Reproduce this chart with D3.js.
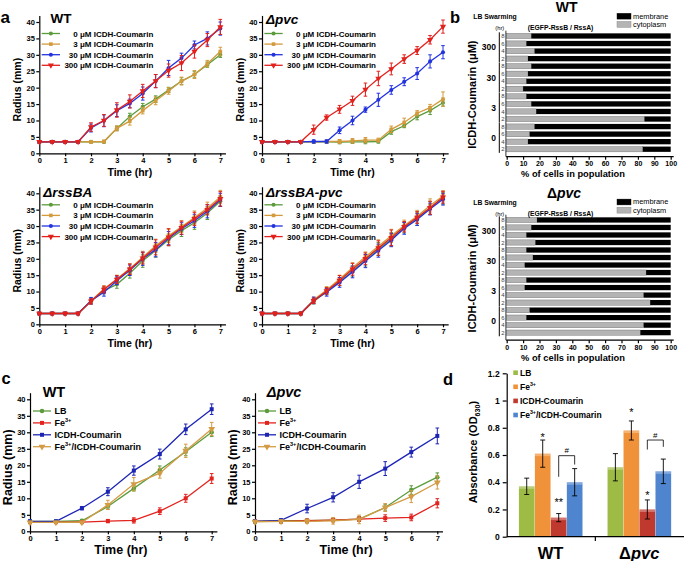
<!DOCTYPE html>
<html><head><meta charset="utf-8">
<script src="https://cdn.jsdelivr.net/npm/d3@7"></script>
<style>body{margin:0;background:#fff}svg{display:block}</style>
</head><body>
<svg id="fig" width="685" height="561"></svg>
<script>
// ---------------- DATA ----------------
const timesA = [0,0.5,1,1.5,2,2.5,3,3.5,4,4.5,5,5.5,6,6.5,7];
const timesC = [0,1,2,3,4,5,6,7];
const concLabels = ["0 \u03BCM ICDH-Coumarin","3 \u03BCM ICDH-Coumarin","30 \u03BCM ICDH-Coumarin","300 \u03BCM ICDH-Coumarin"];
const treatLabels = ["LB","Fe^{3+}","ICDH-Coumarin","Fe^{3+}/ICDH-Coumarin"];
const xTicksA = [0,1,2,3,4,5,6,7];
const yTicksA = [0,5,10,15,20,25,30,35,40];

// panel a - WT
const aWT_c0   = [3.5,3.5,3.5,3.5,3.5,3.5,7.6,11.2,14.2,16.5,19.3,22,24,27,30];
const aWT_e0   = [0.4,0.4,0.4,0.4,0.4,0.4,0.6,1,1,1,0.8,1,1,0.8,0.8];
const aWT_c3   = [3.5,3.5,3.5,3.5,3.5,3.6,7.6,9.8,13,16,19,22,24,27.3,31];
const aWT_e3   = [0.4,0.4,0.4,0.4,0.4,0.4,0.8,1.2,1,1.2,1,1.2,1.2,1,1.3];
const aWT_c30  = [3.5,3.5,3.5,3.5,7.7,9.9,13,15.2,18.2,22,26,29,33,35,38];
const aWT_e30  = [0.4,0.4,0.4,0.4,1.2,1.8,1.8,1.3,2,2,2.3,1.5,1.2,2,2];
const aWT_c300 = [3.5,3.5,3.5,3.5,8,10,13.2,15.8,19,22,25.2,27.5,31,34.5,38.5];
const aWT_e300 = [0.4,0.4,0.4,0.4,1.3,1.8,2.2,2,2,2,2,2.3,2,2,2.3];
// panel a - Δpvc
const aPV_c0   = [3.5,3.5,3.5,3.5,3.5,3.5,3.4,3.5,3.5,3.6,6.6,8.4,11.2,13,15.4];
const aPV_e0   = [0.4,0.4,0.4,0.4,0.4,0.4,0.5,0.5,0.6,0.5,0.8,0.6,1,1.2,1];
const aPV_c3   = [3.5,3.5,3.5,3.5,3.5,3.6,3.6,3.8,4,4,7.3,9.4,12.2,13.9,16.5];
const aPV_e3   = [0.4,0.4,0.4,0.4,0.4,0.5,0.6,0.7,0.8,0.6,1,1.3,0.8,1,2.2];
const aPV_c30  = [3.5,3.5,3.5,3.5,3.6,3.6,7,10,13.3,16.3,19.3,21.8,24.3,28,30.8];
const aPV_e30  = [0.4,0.4,0.4,0.4,0.5,0.5,1,1.3,0.8,2,1.3,1.2,1.8,2,2];
const aPV_c300 = [3.5,3.5,3.5,3.5,7.2,10.9,13.4,16,19.4,22.8,25.7,28.7,31.3,34.6,38.6];
const aPV_e300 = [0.4,0.4,0.4,0.4,1.4,0.8,1.2,1.4,2,2.2,1.8,1.3,1.2,1.3,2];
// panel a - ΔrssBA
const aRB_c0   = [3.3,3.3,3.3,3.3,7,10.3,12.2,15.6,19.4,22.5,25.8,28.6,31,34,37.6];
const aRB_e0   = [0.4,0.4,0.4,0.4,0.8,1,1.2,1.5,2,2,1.8,1.8,2,2,1.6];
const aRB_c3   = [3.3,3.3,3.3,3.3,7.2,10.8,13.8,17,20.5,24,27,29.8,32.6,35.5,38.9];
const aRB_e3   = [0.4,0.4,0.4,0.4,0.8,1,1.2,1.5,1.8,2,2,1.8,2,1.8,2];
const aRB_c30  = [3.3,3.3,3.3,3.3,7.2,9.8,13.3,16.5,20,22.8,26.3,29.2,31.6,34.5,38];
const aRB_e30  = [0.4,0.4,0.4,0.4,1,1.2,1.2,1.6,2,2.2,2,1.8,2,2,2];
const aRB_c300 = [3.3,3.3,3.3,3.3,7,10.6,13.7,16.8,20.2,23.5,26.6,29.5,32.2,35,38.3];
const aRB_e300 = [0.4,0.4,0.4,0.4,0.8,1,1.2,1.6,1.8,2.3,2.6,2,2,1.6,2.2];
// panel a - ΔrssBA-pvc
const aRP_c0   = [3.3,3.3,3.3,3.3,7,10,13,16.2,19.6,23,26,29.5,32.2,35.5,38.5];
const aRP_e0   = [0.4,0.4,0.4,0.4,0.8,1,1.2,1.5,1.8,2,2,1.6,2,2,1.8];
const aRP_c3   = [3.3,3.3,3.3,3.3,7.5,10.5,13.8,17.3,20.6,23.8,27,30.2,33,36.3,39.2];
const aRP_e3   = [0.4,0.4,0.4,0.4,0.8,1,1.2,1.5,1.5,2,2,1.6,1.8,2,1.6];
const aRP_c30  = [3.3,3.3,3.3,3.3,7.3,9.8,12.8,16,19.3,22.5,25.7,29.3,32,35.2,38.2];
const aRP_e30  = [0.4,0.4,0.4,0.4,1,1.2,1.5,1.8,2,2,2,1.8,1.8,1.8,1.8];
const aRP_c300 = [3.3,3.3,3.3,3.3,7.2,10.2,13.4,16.8,20,23.3,26.4,29.8,32.6,35.6,38.8];
const aRP_e300 = [0.4,0.4,0.4,0.4,0.8,1,1.5,1.8,1.8,2.2,2.4,1.6,1.8,2,1.8];

// panel b
const bConc  = ["300","30","3","0"];
const bHours = ["8","6","4","2"];
const bWT_cyto = [15,12,17,13, 15,13,12,10, 12,15,18,84, 17,14,13,83];
const bPV_cyto = [18.5,15,12,17.5, 12,16,11,85, 12,11,83.5,87.5, 14,12,83.5,81.5];
const bLegend = ["membrane","cytoplasm"];
const bXTicks = [0,10,20,30,40,50,60,70,80,90,100];

// panel c
const cWT_LB   = [3,3,3.2,7.5,13,18.6,24.1,30];
const cWT_LBe  = [0.4,0.4,0.4,0.8,0.8,1.2,1.2,1.3];
const cWT_Fe   = [2.8,2.8,2.8,3.1,3.3,6.1,10,16];
const cWT_Fee  = [0.4,0.4,0.4,0.5,0.8,1,1.2,1.5];
const cWT_IC   = [3,3,7,12,18.4,23.4,30.9,37];
const cWT_ICe  = [0.4,0.4,0.5,1.2,1.4,1.5,1.6,1.6];
const cWT_FI   = [2.7,2.7,2.7,8,14.3,17.6,24.4,31];
const cWT_FIe  = [0.4,0.4,0.4,1.4,2,1.5,2,2];
const cPV_LB   = [3,3.2,3.2,3.4,3.7,7.2,12.5,16.4];
const cPV_LBe  = [0.5,0.5,0.5,0.5,0.7,1,1.3,1.3];
const cPV_Fe   = [3,3,3.2,3.4,3.7,4,4.2,8.5];
const cPV_Fee  = [0.5,0.5,0.5,0.5,0.7,1,1,1.4];
const cPV_IC   = [3,3.3,6.9,10.3,15,19,24,28.9];
const cPV_ICe  = [0.5,0.5,1.3,1.4,2,2.1,1.5,2.4];
const cPV_FI   = [2.9,3,3,3.2,3.6,7.2,10.5,14.8];
const cPV_FIe  = [0.5,0.5,0.6,1,1.3,1.2,1.8,2];

// panel d
const dGroups = ["WT","\u0394*pvc*"];
const dWT    = [0.37,0.61,0.14,0.40];
const dWTerr = [0.06,0.10,0.03,0.10];
const dPV    = [0.51,0.78,0.20,0.48];
const dPVerr = [0.10,0.07,0.07,0.09];
const dWTsig  = ["","*","**",""];
const dWTsigY = [0,0.75,0.27,0];
const dPVsig  = ["","*","*",""];
const dPVsigY = [0,0.93,0.32,0];
const dBracketTop   = [0.595,0.71];
const dBracketLeft  = [0.44,0.64];
const dBracketRight = [0.53,0.66];
const dYTicks = [0,0.2,0.4,0.6,0.8,1,1.2];

// ---------------- DRAWING ----------------
const FONT = '"Liberation Sans", Arial, Helvetica, sans-serif';
const svg = d3.select("#fig").attr("font-family", FONT);

function rich(t, s, fs) {
  const parts = s.split(/(\^\{[^}]*\}|_\{[^}]*\}|\*[^*]+\*)/).filter(p => p !== "");
  let off = 0;
  parts.forEach(p => {
    const ts = t.append("tspan");
    let target = 0, txt = p, size = null, italic = false;
    if (p.startsWith("^{")) { txt = p.slice(2,-1); target = -0.42*fs; size = 0.62*fs; }
    else if (p.startsWith("_{")) { txt = p.slice(2,-1); target = 0.28*fs; size = 0.65*fs; }
    else if (p.startsWith("*")) { txt = p.slice(1,-1); italic = true; }
    if (size) ts.attr("font-size", size);
    if (italic) ts.attr("font-style","italic");
    if (target !== off) { ts.attr("dy", target - off); off = target; }
    ts.text(txt);
  });
  return t;
}

function text(g, x, y, s, fs, opts = {}) {
  const t = g.append("text").attr("x", x).attr("y", y).attr("font-size", fs)
    .attr("font-weight", opts.weight || "bold").attr("fill", opts.fill || "#000")
    .attr("text-anchor", opts.anchor || "start");
  if (opts.italic) t.attr("font-style","italic");
  if (opts.rotate) t.attr("transform", `rotate(-90,${x},${y})`);
  return rich(t, s, fs);
}

function styleAxis(a, fs) {
  a.attr("font-family", null);
  a.selectAll("text").attr("font-size", fs).attr("font-weight","bold").attr("fill","#000").attr("font-family", FONT);
  a.selectAll("line,path").attr("stroke","#000").attr("stroke-width",1.2);
}

function marker(shape, size) {
  if (shape === "circle") return d3.symbol(d3.symbolCircle, size)();
  if (shape === "square") return d3.symbol(d3.symbolSquare, size)();
  return d3.symbol(d3.symbolTriangle, size*1.25)();
}

function linePanel(o) {
  const sx = (o.x7 - o.x0)/7, sy = (o.y0 - o.y40)/40;
  const x = d3.scaleLinear().domain([0,7.2]).range([o.x0, o.x0 + 7.2*sx]);
  const y = d3.scaleLinear().domain([0,42]).range([o.y0, o.y0 - 42*sy]);
  const g = svg.append("g");
  const ax = g.append("g").attr("transform",`translate(0,${o.y0})`)
    .call(d3.axisBottom(x).tickValues(xTicksA).tickFormat(d3.format("d")).tickSize(3).tickSizeOuter(0).tickPadding(1.5));
  const ay = g.append("g").attr("transform",`translate(${o.x0},0)`)
    .call(d3.axisLeft(y).tickValues(yTicksA).tickSize(3).tickSizeOuter(0).tickPadding(1.5));
  styleAxis(ax, 7.5); styleAxis(ay, 7.5);
  o.series.forEach(s => {
    const pts = o.times.map((t,i) => ({t, v:s.vals[i], e:s.errs[i]}));
    g.append("path").datum(pts).attr("fill","none").attr("stroke",s.color).attr("stroke-width",1.3)
      .attr("d", d3.line().x(d => x(d.t)).y(d => y(d.v)));
    const eb = g.append("g").attr("stroke", s.color).attr("stroke-width", 1);
    pts.forEach(d => {
      eb.append("line").attr("x1",x(d.t)).attr("x2",x(d.t)).attr("y1",y(d.v-d.e)).attr("y2",y(d.v+d.e));
      [d.v-d.e, d.v+d.e].forEach(v => eb.append("line").attr("x1",x(d.t)-1.8).attr("x2",x(d.t)+1.8).attr("y1",y(v)).attr("y2",y(v)));
    });
    g.selectAll(null).data(pts).enter().append("path")
      .attr("d", marker(s.shape, o.msize))
      .attr("transform", d => `translate(${x(d.t)},${y(d.v)})${s.shape==="tri"?" rotate(180)":""}`)
      .attr("fill", s.color);
  });
  // legend
  o.series.forEach((s,i) => {
    const ly = o.y40 + o.legDy + i*o.legStep;
    const lx1 = o.x0 + o.legX1, lx2 = o.x0 + o.legX2;
    g.append("line").attr("x1",lx1).attr("x2",lx2).attr("y1",ly).attr("y2",ly).attr("stroke",s.color).attr("stroke-width",1.3);
    g.append("path").attr("d", marker(s.shape, o.msize)).attr("fill", s.color)
      .attr("transform", `translate(${(lx1+lx2)/2},${ly})${s.shape==="tri"?" rotate(180)":""}`);
    if (o.legAnchor === "end") text(g, o.x0 + o.legTextX, ly + 3, s.name, o.legFs, {anchor:"end"});
    else text(g, o.x0 + o.legTextX, ly + 3.2, s.name, o.legFs);
  });
  text(g, o.titleX, o.titleY, o.title, o.titleFs, {italic: o.titleItalic});
  text(g, (o.x0 + o.x7)/2, o.y0 + o.xTitleDy, "Time (hr)", o.axFs, {anchor:"middle"});
  text(g, o.yTitleX, (o.y0 + o.y40)/2 + 2, "Radius (mm)", o.axFs, {anchor:"middle", rotate:true});
}

const colA = ["#5b9b3c","#d49a3c","#2233e0","#e2201c"];
const shapesA = ["circle","square","circle","tri"];
function aSeries(vals, errs) {
  return vals.map((v,i) => ({name: concLabels[i], vals: v, errs: errs[i], color: colA[i], shape: shapesA[i]}));
}
const aCommon = {times: timesA, msize: 13, legDy: 11.5, legStep: 10.6, legX1: 2.4, legX2: 20.7, legTextX: 114, legAnchor: "end", legFs: 8, titleFs: 13.5, axFs: 10.5, xTitleDy: 23};

linePanel(Object.assign({}, aCommon, {x0:39.3, x7:220.3, y0:153.3, y40:22, title:"WT", titleX:50.5, titleY:23.3, titleItalic:false, yTitleX:21.5,
  series: aSeries([aWT_c0,aWT_c3,aWT_c30,aWT_c300],[aWT_e0,aWT_e3,aWT_e30,aWT_e300])}));
linePanel(Object.assign({}, aCommon, {x0:262, x7:443, y0:153.3, y40:22, title:"\u0394pvc", titleX:266, titleY:23.5, titleItalic:true, yTitleX:244.5,
  series: aSeries([aPV_c0,aPV_c3,aPV_c30,aPV_c300],[aPV_e0,aPV_e3,aPV_e30,aPV_e300])}));
linePanel(Object.assign({}, aCommon, {x0:39.3, x7:220.3, y0:324.3, y40:193.3, title:"\u0394rssBA", titleX:43.3, titleY:196.5, titleItalic:true, yTitleX:21.5,
  series: aSeries([aRB_c0,aRB_c3,aRB_c30,aRB_c300],[aRB_e0,aRB_e3,aRB_e30,aRB_e300])}));
linePanel(Object.assign({}, aCommon, {x0:262, x7:443, y0:324.3, y40:193.3, title:"\u0394rssBA-pvc", titleX:266, titleY:196.5, titleItalic:true, yTitleX:244.5,
  series: aSeries([aRP_c0,aRP_c3,aRP_c30,aRP_c300],[aRP_e0,aRP_e3,aRP_e30,aRP_e300])}));

const colC = ["#5b9b3c","#e2231e","#1c24b4","#d39b44"];
const shapesC = ["circle","square","square","tri"];
function cSeries(vals, errs) {
  return vals.map((v,i) => ({name: treatLabels[i], vals: v, errs: errs[i], color: colC[i], shape: shapesC[i]}));
}
const cCommon = {times: timesC, msize: 16, legDy: 11.7, legStep: 11.9, legX1: 3, legX2: 21, legTextX: 24.5, legAnchor: "start", legFs: 9, titleFs: 14.5, axFs: 12.5, xTitleDy: 23, titleItalic:false};
linePanel(Object.assign({}, cCommon, {x0:30, x7:211.7, y0:531.3, y40:399.3, title:"WT", titleX:42.7, titleY:397.3, yTitleX:12,
  series: cSeries([cWT_LB,cWT_Fe,cWT_IC,cWT_FI],[cWT_LBe,cWT_Fee,cWT_ICe,cWT_FIe])}));
linePanel(Object.assign({}, cCommon, {x0:255, x7:437.3, y0:531.3, y40:399.3, title:"\u0394pvc", titleX:266.7, titleY:396.5, titleItalic:true, yTitleX:237,
  series: cSeries([cPV_LB,cPV_Fe,cPV_IC,cPV_FI],[cPV_LBe,cPV_Fee,cPV_ICe,cPV_FIe])}));

// ---- panel b ----
function barPanel(o) {
  const g = svg.append("g");
  const keys = [];
  bConc.forEach(c => bHours.forEach(h => keys.push(c + "|" + h)));
  const x = d3.scaleLinear().domain([0,100]).range([506.7, 670.7]);
  const y = d3.scaleBand().domain(keys).range([o.r0, o.r1]).paddingInner(0.3).paddingOuter(0.35);
  const bw = y.bandwidth();
  keys.forEach((k,i) => {
    const c = o.cyto[i];
    g.append("rect").attr("x", x(0)).attr("y", y(k)).attr("width", x(c)-x(0)).attr("height", bw)
      .attr("fill","#b4b4b4").attr("stroke","#666").attr("stroke-width",0.4);
    g.append("rect").attr("x", x(c)).attr("y", y(k)).attr("width", x(100)-x(c)).attr("height", bw).attr("fill","#000");
    g.append("text").attr("x", 502.8).attr("y", y(k)+bw/2+2.1).attr("font-size",6).attr("fill","#444")
      .attr("text-anchor","middle").text(k.split("|")[1]);
  });
  // y axis line
  g.append("line").attr("x1",505.9).attr("x2",505.9).attr("y1",o.r0).attr("y2",o.axisY).attr("stroke","#000").attr("stroke-width",0.8);
  // group brackets and labels
  bConc.forEach(c => {
    const top = y(c+"|8") - 1, bot = y(c+"|2") + bw + 1;
    g.append("line").attr("x1",499.3).attr("x2",499.3).attr("y1",top).attr("y2",bot).attr("stroke","#000").attr("stroke-width",1);
    text(g, 496, (top+bot)/2 + 3, c, 8.5, {anchor:"end"});
  });
  const ax = g.append("g").attr("transform",`translate(0,${o.axisY})`)
    .call(d3.axisBottom(x).tickValues(bXTicks).tickSize(3).tickSizeOuter(0).tickPadding(1.5));
  styleAxis(ax, 7);
  ax.select("path").attr("d", `M${x(0)-0.6},0H${x(100)+3}`);
  text(g, 573, o.axisY + 20.5, "% of cells in population", 9.3, {anchor:"middle"});
  text(g, 476.5, (o.r0 + o.r1)/2 + 2, "ICDH-Coumarin (\u03BCM)", 11, {anchor:"middle", rotate:true});
  text(g, o.titleX, o.titleY, o.title, 14, {anchor:"middle"});
  text(g, 473.3, o.titleY + 7.3, "LB Swarming", 6.8);
  text(g, 504.3, o.titleY + 18.3, "(hr)", 5.8, {anchor:"end", weight:"normal"});
  text(g, 560.5, o.titleY + 18, "(EGFP-RssB / RssA)", 6.8, {anchor:"middle"});
  bLegend.forEach((name,i) => {
    const ly = o.titleY + 1.6 + i*8.2;
    g.append("rect").attr("x",617).attr("y",ly).attr("width",14).attr("height",5.8)
      .attr("fill", i===0 ? "#000" : "#b4b4b4").attr("stroke", i===0 ? "#000" : "#777").attr("stroke-width",0.4);
    text(g, 633, ly + 5.2, name, 7.4, {weight:"normal"});
  });
}
barPanel({cyto: bWT_cyto, r0: 30.7, r1: 154.5, axisY: 156.7, title:"WT", titleX:566.7, titleY:11.7});
barPanel({cyto: bPV_cyto, r0: 214.7, r1: 337.9, axisY: 340.2, title:"\u0394*pvc*", titleX:564, titleY:197.5});

// ---- panel d ----
(function() {
  const g = svg.append("g");
  const dColors = ["#9dbb45","#f0923a","#c0392f","#4f85cf"];
  const y = d3.scaleLinear().domain([0,1.2]).range([536.7, 373.3]);
  const x0 = d3.scaleBand().domain(dGroups).range([506.7, 684]);
  const x1 = d3.scaleBand().domain([0,1,2,3]).range([12.2, 75.8]).paddingInner(0.02);
  const vals = [dWT, dPV], errs = [dWTerr, dPVerr], sigs = [dWTsig, dPVsig], sigY = [dWTsigY, dPVsigY];
  dGroups.forEach((grp, gi) => {
    vals[gi].forEach((v,i) => {
      const bx = x0(grp) + x1(i), bw = x1.bandwidth();
      g.append("rect").attr("x", bx).attr("y", y(v)).attr("width", bw).attr("height", y(0)-y(v)).attr("fill", dColors[i]);
      g.append("rect").attr("x", bx).attr("y", y(v)).attr("width", bw).attr("height", 2.5).attr("fill", "#fff").attr("opacity", 0.3);
      const cx = bx + bw/2, e = errs[gi][i];
      g.append("line").attr("x1",cx).attr("x2",cx).attr("y1",y(v-e)).attr("y2",y(v+e)).attr("stroke","#000").attr("stroke-width",0.9);
      [v-e, v+e].forEach(vv => g.append("line").attr("x1",cx-2.5).attr("x2",cx+2.5).attr("y1",y(vv)).attr("y2",y(vv)).attr("stroke","#000").attr("stroke-width",0.9));
      if (sigs[gi][i]) g.append("text").attr("x", cx).attr("y", y(sigY[gi][i]) + 6).attr("text-anchor","middle")
        .attr("font-size", 11).text(sigs[gi][i]);
    });
    const xa = x0(grp) + x1(2) + x1.bandwidth()/2, xb = x0(grp) + x1(3) + x1.bandwidth()/2;
    g.append("path").attr("fill","none").attr("stroke","#000").attr("stroke-width",0.8)
      .attr("d", `M${xa},${y(dBracketLeft[gi])}V${y(dBracketTop[gi])}H${xb}V${y(dBracketRight[gi])}`);
    g.append("text").attr("x",(xa+xb)/2).attr("y", y(dBracketTop[gi]) - 2.5).attr("text-anchor","middle").attr("font-size",8).text("#");
    text(g, x0(grp) + x0.bandwidth()/2 - 0.5, 559, grp, 16.5, {anchor:"middle"});
  });
  const ay = g.append("g").attr("transform","translate(506.7,0)")
    .call(d3.axisLeft(y).tickValues(dYTicks).tickFormat(d3.format("~g")).tickSize(4).tickSizeOuter(0).tickPadding(3));
  styleAxis(ay, 8.5);
  g.append("line").attr("x1",506.7).attr("x2",684).attr("y1",536.7).attr("y2",536.7).attr("stroke","#000").attr("stroke-width",1.2);
  g.append("line").attr("x1",x0(dGroups[1])).attr("x2",x0(dGroups[1])).attr("y1",536.7).attr("y2",541).attr("stroke","#000").attr("stroke-width",1.2);
  text(g, 476.5, 452, "Absorbance (OD_{630})", 11, {anchor:"middle", rotate:true});
  treatLabels.forEach((name,i) => {
    const ly = 372.7 + i*14.1;
    g.append("rect").attr("x",513.3).attr("y",ly-2.3).attr("width",4.6).attr("height",4.6).attr("fill",dColors[i]);
    text(g, 520, ly + 3, name, 8.5);
  });
})();

// panel letters
text(svg, 0.5, 22.7, "a", 17);
text(svg, 450, 23.3, "b", 16.5);
text(svg, 1.5, 384, "c", 16.5);
text(svg, 443, 385, "d", 16.5);
</script>
</body></html>
